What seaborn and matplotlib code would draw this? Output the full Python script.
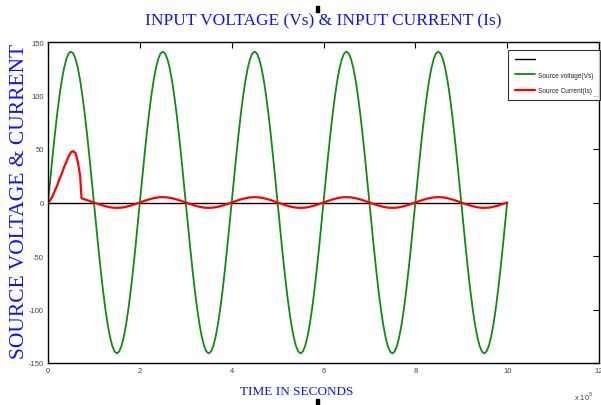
import matplotlib
matplotlib.use("Agg")
import matplotlib.pyplot as plt
import seaborn as sns
import pandas as pd
import numpy as np
from matplotlib.patches import Rectangle

# ---------------- data ----------------
# time axis (x 10^-5 s), voltage sampled every 0.05
time_v = [round(0.05 * k, 2) for k in range(201)]
voltage = (
    [0, 22.1, 43.6, 64.0, 82.9, 99.7, 114.1, 125.6, 134.1, 139.3, 141.0, 139.3, 134.1, 125.6, 114.1, 99.7, 82.9, 64.0, 43.6, 22.1,
     0, -22.1, -43.6, -64.0, -82.9, -99.7, -114.1, -125.6, -134.1, -139.3, -141.0, -139.3, -134.1, -125.6, -114.1, -99.7, -82.9, -64.0, -43.6, -22.1]
    + [0, 22.1, 43.6, 64.0, 82.9, 99.7, 114.1, 125.6, 134.1, 139.3, 141.0, 139.3, 134.1, 125.6, 114.1, 99.7, 82.9, 64.0, 43.6, 22.1,
       0, -22.1, -43.6, -64.0, -82.9, -99.7, -114.1, -125.6, -134.1, -139.3, -141.0, -139.3, -134.1, -125.6, -114.1, -99.7, -82.9, -64.0, -43.6, -22.1]
    + [0, 22.1, 43.6, 64.0, 82.9, 99.7, 114.1, 125.6, 134.1, 139.3, 141.0, 139.3, 134.1, 125.6, 114.1, 99.7, 82.9, 64.0, 43.6, 22.1,
       0, -22.1, -43.6, -64.0, -82.9, -99.7, -114.1, -125.6, -134.1, -139.3, -141.0, -139.3, -134.1, -125.6, -114.1, -99.7, -82.9, -64.0, -43.6, -22.1]
    + [0, 22.1, 43.6, 64.0, 82.9, 99.7, 114.1, 125.6, 134.1, 139.3, 141.0, 139.3, 134.1, 125.6, 114.1, 99.7, 82.9, 64.0, 43.6, 22.1,
       0, -22.1, -43.6, -64.0, -82.9, -99.7, -114.1, -125.6, -134.1, -139.3, -141.0, -139.3, -134.1, -125.6, -114.1, -99.7, -82.9, -64.0, -43.6, -22.1]
    + [0, 22.1, 43.6, 64.0, 82.9, 99.7, 114.1, 125.6, 134.1, 139.3, 141.0, 139.3, 134.1, 125.6, 114.1, 99.7, 82.9, 64.0, 43.6, 22.1,
       0, -22.1, -43.6, -64.0, -82.9, -99.7, -114.1, -125.6, -134.1, -139.3, -141.0, -139.3, -134.1, -125.6, -114.1, -99.7, -82.9, -64.0, -43.6, -22.1]
    + [0]
)

time_i = [0, 0.05, 0.1, 0.15, 0.2, 0.25, 0.3, 0.35, 0.4, 0.45, 0.5, 0.55, 0.6, 0.65, 0.7, 0.73,
          0.8, 0.9, 1.0, 1.1, 1.2, 1.3, 1.4, 1.5, 1.6, 1.7, 1.8, 1.9,
          2.0, 2.1, 2.2, 2.3, 2.4, 2.5, 2.6, 2.7, 2.8, 2.9,
          3.0, 3.1, 3.2, 3.3, 3.4, 3.5, 3.6, 3.7, 3.8, 3.9,
          4.0, 4.1, 4.2, 4.3, 4.4, 4.5, 4.6, 4.7, 4.8, 4.9,
          5.0, 5.1, 5.2, 5.3, 5.4, 5.5, 5.6, 5.7, 5.8, 5.9,
          6.0, 6.1, 6.2, 6.3, 6.4, 6.5, 6.6, 6.7, 6.8, 6.9,
          7.0, 7.1, 7.2, 7.3, 7.4, 7.5, 7.6, 7.7, 7.8, 7.9,
          8.0, 8.1, 8.2, 8.3, 8.4, 8.5, 8.6, 8.7, 8.8, 8.9,
          9.0, 9.1, 9.2, 9.3, 9.4, 9.5, 9.6, 9.7, 9.8, 9.9, 10.0]
current = [0, 2, 6, 11, 16, 22, 27, 33, 38, 43, 47, 48, 46, 38, 25, 4,
           2.9, 1.5, 0, -1.5, -2.9, -4.0, -4.8, -5.0, -4.8, -4.0, -2.9, -1.5,
           0, 1.5, 2.9, 4.0, 4.8, 5.0, 4.8, 4.0, 2.9, 1.5,
           0, -1.5, -2.9, -4.0, -4.8, -5.0, -4.8, -4.0, -2.9, -1.5,
           0, 1.5, 2.9, 4.0, 4.8, 5.0, 4.8, 4.0, 2.9, 1.5,
           0, -1.5, -2.9, -4.0, -4.8, -5.0, -4.8, -4.0, -2.9, -1.5,
           0, 1.5, 2.9, 4.0, 4.8, 5.0, 4.8, 4.0, 2.9, 1.5,
           0, -1.5, -2.9, -4.0, -4.8, -5.0, -4.8, -4.0, -2.9, -1.5,
           0, 1.5, 2.9, 4.0, 4.8, 5.0, 4.8, 4.0, 2.9, 1.5,
           0, -1.5, -2.9, -4.0, -4.8, -5.0, -4.8, -4.0, -2.9, -1.5, 0]

time_ref = [0, 10]
reference = [0, 0]

x_ticks = [0, 2, 4, 6, 8, 10, 12]
y_ticks = [-150, -100, -50, 0, 50, 100, 150]

labels = [" ", "Source voltage(Vs)", "Source Current(Is)"]
title = "INPUT VOLTAGE (Vs) & INPUT CURRENT (Is)"
xlabel = "TIME IN SECONDS"
ylabel = "SOURCE VOLTAGE & CURRENT"

# ---------------- plot ----------------
sns.set_style("white")
plt.rcParams["font.family"] = ["Liberation Sans Narrow", "Liberation Sans", "DejaVu Sans"]

fig = plt.figure(figsize=(6.01, 4.06), dpi=100)
ax = fig.add_axes([48 / 601, 1 - 364 / 406, 551 / 601, 321 / 406])

df_ref = pd.DataFrame({"t": time_ref, "v": reference})
df_v = pd.DataFrame({"t": time_v, "v": voltage})
df_i = pd.DataFrame({"t": time_i, "v": current})

sns.lineplot(data=df_ref, x="t", y="v", ax=ax, color="black", lw=1.0, label=labels[0], sort=False)
sns.lineplot(data=df_v, x="t", y="v", ax=ax, color="#108a10", lw=1.3, label=labels[1], sort=False)
sns.lineplot(data=df_i, x="t", y="v", ax=ax, color="#ff0000", lw=1.6, label=labels[2], sort=False)

ax.set_xlim(0, 12)
ax.set_ylim(-150, 150)
ax.set_xticks(x_ticks)
ax.set_yticks(y_ticks)
ax.set_xticklabels([str(v) for v in x_ticks])
ax.set_yticklabels([str(v) for v in y_ticks])
ax.tick_params(axis="both", which="both", direction="in", length=4, width=0.8,
               labelsize=5.5, colors="black", labelcolor="#444444",
               top=True, right=True, pad=3)
for s in ax.spines.values():
    s.set_visible(True)
    s.set_color("black")
    s.set_linewidth(1.0)

ax.set_xlabel("")
ax.set_ylabel("")

serif = ["Liberation Serif", "DejaVu Serif"]
fig.text(323 / 601, 1 - 21 / 406, title, ha="center", va="center",
         color="#1010ff", fontsize=12.5, family=serif)
fig.text(297 / 601, 1 - 392 / 406, xlabel, ha="center", va="center",
         color="#1010ff", fontsize=9.5, family=serif)
fig.text(20 / 601, 1 - 201 / 406, ylabel, ha="center", va="center", rotation=90,
         color="#1010ff", fontsize=15.5, family=serif)
fig.text(593 / 601, 1 - 397 / 406, "x 10$^{5}$", ha="right", va="center",
         color="#444444", fontsize=5.5)

leg = ax.legend(loc="upper left", bbox_to_anchor=((508 - 48) / 551, (364 - 51) / 321),
                fontsize=4.7, frameon=True, fancybox=False, edgecolor="black",
                handlelength=3.1, borderpad=1.0, labelspacing=1.25, handletextpad=0.45,
                borderaxespad=0.0)
leg.get_frame().set_linewidth(0.8)
for t in leg.get_texts():
    t.set_color("#222222")

# small black marks (artifacts in reference)
fig.patches.append(Rectangle((316 / 601, 1 - 13 / 406), 3 / 601, 6 / 406,
                             transform=fig.transFigure, color="black"))
fig.patches.append(Rectangle((316 / 601, 1 - 406 / 406), 3 / 601, 6 / 406,
                             transform=fig.transFigure, color="black"))

fig.savefig("out.png", dpi=100, facecolor="white")
